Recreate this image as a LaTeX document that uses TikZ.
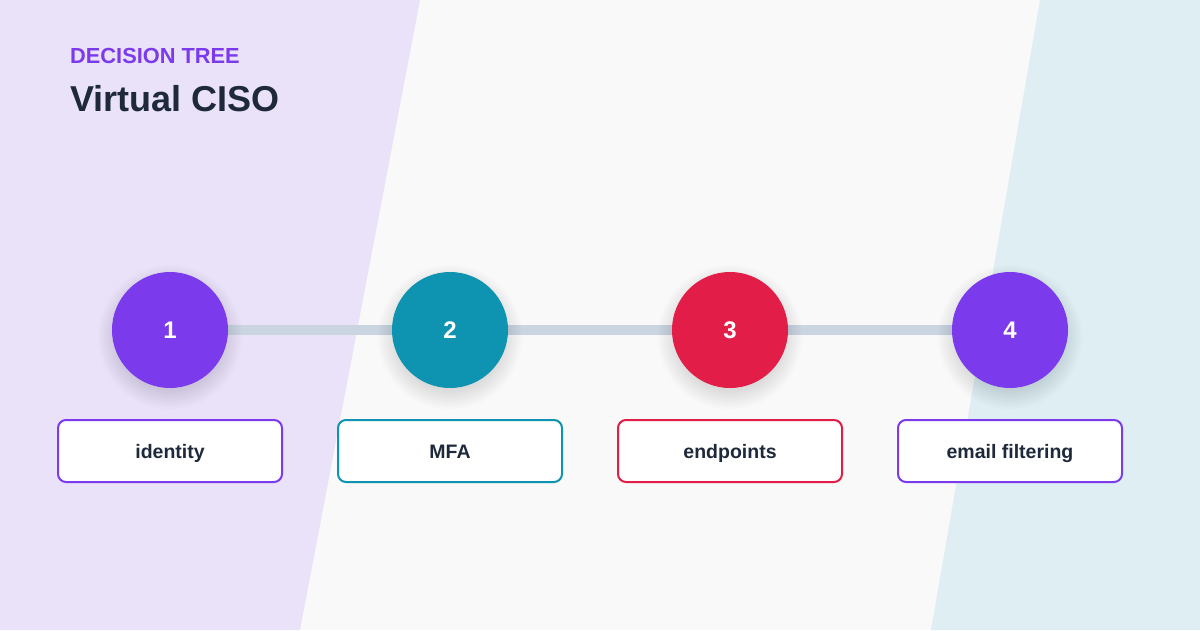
\documentclass[tikz,border=0pt]{standalone}
\usepackage{fontspec}
\setmainfont{Liberation Sans}
\definecolor{bgpurple}{HTML}{EAE2F9}
\definecolor{bgmid}{HTML}{F9F9F9}
\definecolor{bgteal}{HTML}{DFEEF2}
\definecolor{cpurple}{HTML}{7C3AED}
\definecolor{cteal}{HTML}{0E93B0}
\definecolor{cred}{HTML}{E11D48}
\definecolor{track}{HTML}{CBD5E1}
\definecolor{ink}{HTML}{1E293B}
\tikzset{
  stepcircle/.style={circle, minimum size=116pt, inner sep=0pt, fill=#1, text=white,
    font=\fontsize{24}{28}\selectfont\bfseries},
  labelbox/.style={draw=#1, line width=2pt, fill=white, rounded corners=8pt,
    minimum width=224pt, minimum height=62pt, inner sep=0pt, text=ink,
    text height=14pt, text depth=0pt,
    font=\fontsize{19.5}{23}\selectfont\bfseries},
  trackline/.style={draw=track, line width=10pt},
  softshadow/.style={fill=black, opacity=0.011}
}
\begin{document}
\begin{tikzpicture}[x=1pt,y=-1pt]
\useasboundingbox (0,0) rectangle (1200,630);
\fill[bgmid] (0,0) rectangle (1200,630);
\fill[bgpurple] (0,0) -- (420,0) -- (300,630) -- (0,630) -- cycle;
\fill[bgteal] (1040,0) -- (1200,0) -- (1200,630) -- (931,630) -- cycle;
\node[anchor=base west, text=cpurple, font=\fontsize{21.8}{25}\selectfont\bfseries, inner sep=0pt] (kicker) at (70,63) {DECISION TREE};
\node[anchor=base west, text=ink, font=\fontsize{36}{42}\selectfont\bfseries, inner sep=0pt] (title) at (70,111.5) {Virtual CISO};
\coordinate (p1) at (170,330);
\coordinate (p2) at (450,330);
\coordinate (p3) at (730,330);
\coordinate (p4) at (1010,330);
\draw[trackline] (p1) -- (p2);
\draw[trackline] (p2) -- (p3);
\draw[trackline] (p3) -- (p4);
\foreach \p in {p1,p2,p3,p4}{
  \foreach \r in {54,56,58,60,62,64,66,68,70,72}{
    \fill[softshadow] ([yshift=-7pt]\p) circle[radius=\r];
  }
}
\node[stepcircle=cpurple] (c1) at (p1) {1};
\node[stepcircle=cteal] (c2) at (p2) {2};
\node[stepcircle=cred] (c3) at (p3) {3};
\node[stepcircle=cpurple] (c4) at (p4) {4};
\node[labelbox=cpurple] (b1) at (170,451) {identity};
\node[labelbox=cteal] (b2) at (450,451) {MFA};
\node[labelbox=cred] (b3) at (730,451) {endpoints};
\node[labelbox=cpurple] (b4) at (1010,451) {email filtering};
\end{tikzpicture}
\end{document}
